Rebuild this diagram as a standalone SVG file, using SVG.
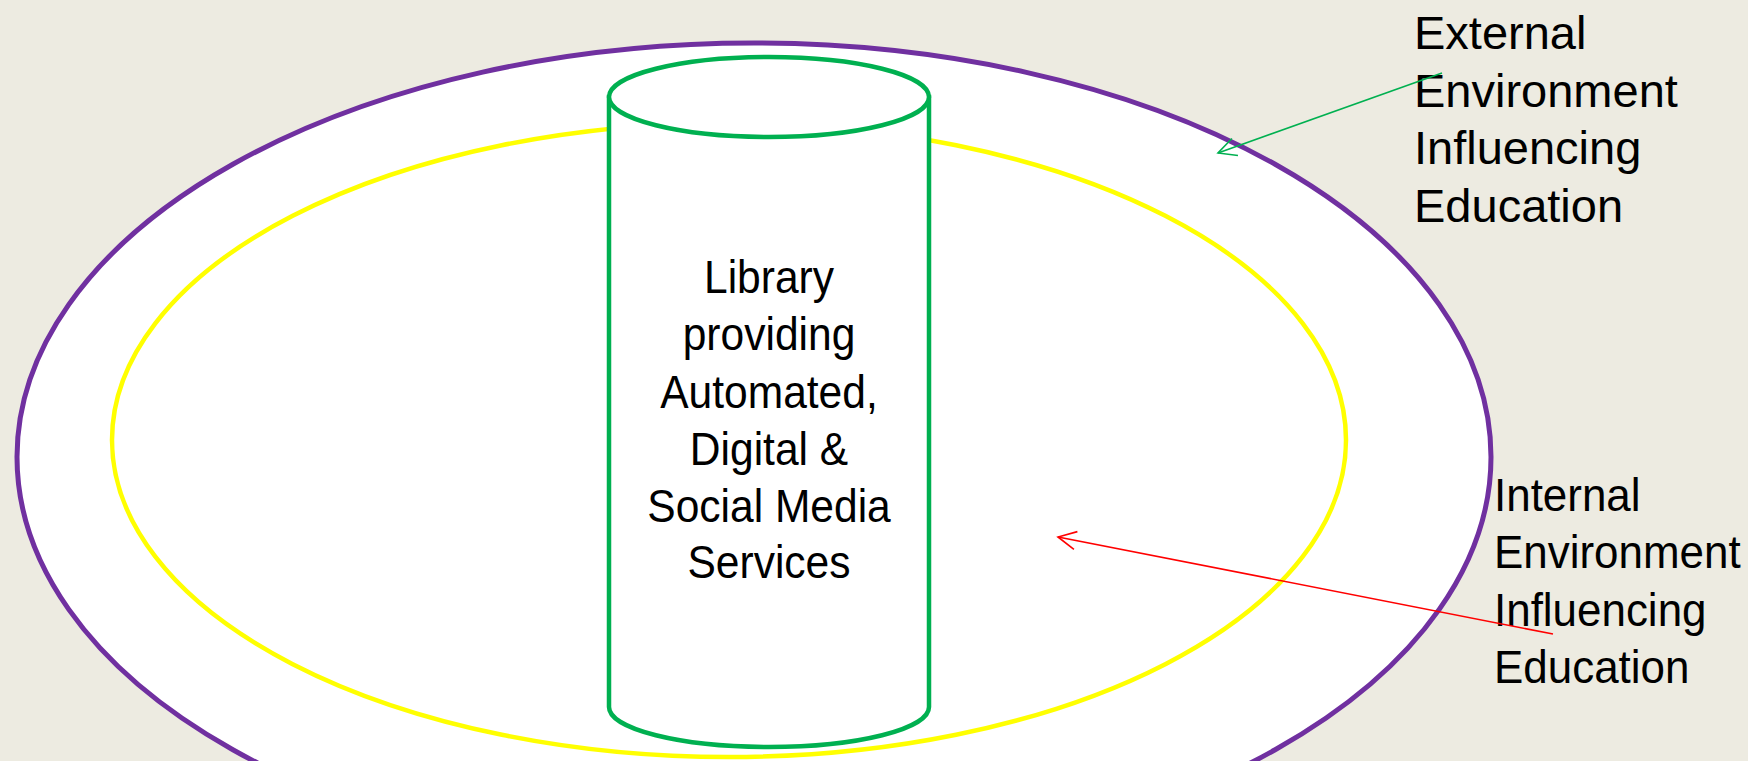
<svg xmlns="http://www.w3.org/2000/svg" width="1748" height="761" viewBox="0 0 1748 761">
<style>
.t{font-family:"Liberation Sans",Arial,sans-serif;font-size:47px;fill:#000}
</style>
<defs>
<marker id="ag" viewBox="-20 -11 22 22" refX="0" refY="0" markerWidth="22" markerHeight="22" markerUnits="userSpaceOnUse" orient="auto"><path d="M-18,-9 L0,0 L-18,9" fill="none" stroke="#00B050" stroke-width="1.6"/></marker>
<marker id="ar" viewBox="-20 -11 22 22" refX="0" refY="0" markerWidth="22" markerHeight="22" markerUnits="userSpaceOnUse" orient="auto"><path d="M-18,-9 L0,0 L-18,9" fill="none" stroke="#FF0000" stroke-width="1.6"/></marker>
</defs>
<rect width="1748" height="761" fill="#EDEBE1"/>
<g id="external-ellipse"><ellipse cx="754" cy="457" rx="737" ry="414" fill="#FFFFFF" stroke="#7030A0" stroke-width="5"/></g>
<g id="internal-ellipse"><ellipse cx="729" cy="440" rx="617" ry="317" fill="none" stroke="#FFFF00" stroke-width="4.5"/></g>
<g id="library">
<path d="M609,97 L609,707 A160,40 0 0 0 929,707 L929,97 Z" fill="#FFFFFF" stroke="#00B050" stroke-width="4.5"/>
<ellipse cx="769" cy="97" rx="160" ry="40" fill="#FFFFFF" stroke="#00B050" stroke-width="4.5"/>
<g transform="translate(769,0) scale(0.905,1)">
<text class="t" text-anchor="middle" x="0" y="293">Library</text>
<text class="t" text-anchor="middle" x="0" y="350">providing</text>
<text class="t" text-anchor="middle" x="0" y="408">Automated,</text>
<text class="t" text-anchor="middle" x="0" y="465">Digital &amp;</text>
<text class="t" text-anchor="middle" x="0" y="522">Social Media</text>
<text class="t" text-anchor="middle" x="0" y="578">Services</text>
</g>
</g>
<g id="external-label">
<text class="t" x="1414" y="49">External</text>
<text class="t" x="1414" y="107">Environment</text>
<text class="t" x="1414" y="164">Influencing</text>
<text class="t" x="1414" y="222">Education</text>
</g>
<g id="internal-label" transform="translate(1494,0) scale(0.935,1)">
<text class="t" x="0" y="511">Internal</text>
<text class="t" x="0" y="568">Environment</text>
<text class="t" x="0" y="626">Influencing</text>
<text class="t" x="0" y="683">Education</text>
</g>
<g id="connectors">
<line x1="1442" y1="73" x2="1218" y2="153" stroke="#00B050" stroke-width="1.6" marker-end="url(#ag)"/>
<line x1="1553" y1="634" x2="1058" y2="537" stroke="#FF0000" stroke-width="1.6" marker-end="url(#ar)"/>
</g>
</svg>
